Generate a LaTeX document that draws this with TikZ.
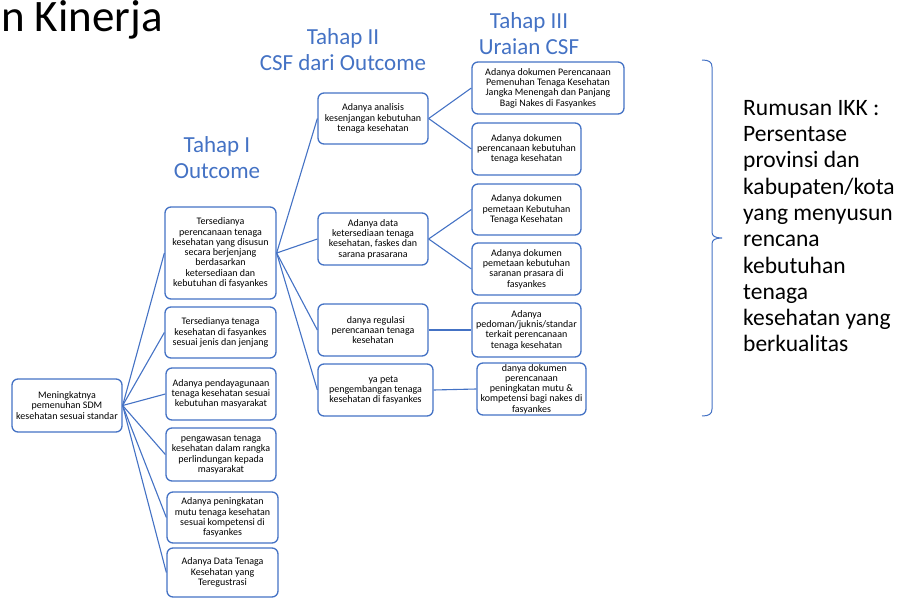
\documentclass[tikz,border=0pt]{standalone}
\usepackage{fontspec}
\setmainfont{Carlito}
\definecolor{biru}{HTML}{4472C4}

\begin{document}
\begin{tikzpicture}[x=1pt,y=-1pt,
	kotak/.style={draw=biru,line width=1.3pt,rounded corners=6pt,align=center,inner sep=1pt,
		minimum height=52pt,font=\fontsize{10}{10.3}\selectfont},
	garis/.style={draw=biru,line width=1.1pt},
	judul/.style={text=biru,align=center,inner sep=0pt,anchor=north,font=\fontsize{23}{26}\selectfont}]
	\useasboundingbox (0,0) rectangle (903,599);
	\node[anchor=base west,inner sep=0pt,font=\fontsize{45}{45}\selectfont] (kinerja) at (1,32) {n Kinerja};
	% judul tahap
	\node[judul] (t1) at (217,136) {Tahap I\\Outcome};
	\node[judul] (t2) at (343,28) {Tahap II\\CSF dari Outcome};
	\node[judul] (t3) at (529,12) {Tahap III\\Uraian CSF};
	% akar
	\node[kotak,minimum width=110pt,minimum height=53pt] (r) at (67,405.5) {Meningkatnya\\pemenuhan SDM\\kesehatan sesuai standar};
	% tahap I
	\node[kotak,minimum width=111pt,minimum height=92pt] (a1) at (220.5,253) {Tersedianya\\perencanaan tenaga\\kesehatan yang disusun\\secara berjenjang\\berdasarkan\\ketersediaan dan\\kebutuhan di fasyankes};
	\node[kotak,minimum width=111pt,minimum height=51pt] (a2) at (220.5,332.5) {Tersedianya tenaga\\kesehatan di fasyankes\\sesuai jenis dan jenjang};
	\node[kotak,minimum width=110pt] (a3) at (221,394) {Adanya pendayagunaan\\tenaga kesehatan sesuai\\kebutuhan masyarakat};
	\node[kotak,minimum width=110pt,minimum height=53pt] (a4) at (221,454.5) {pengawasan tenaga\\kesehatan dalam rangka\\perlindungan kepada\\masyarakat};
	\node[kotak,minimum width=111pt,minimum height=51pt] (a5) at (222.5,517.5) {Adanya peningkatan\\mutu tenaga kesehatan\\sesuai kompetensi di\\fasyankes};
	\node[kotak,minimum width=111pt,minimum height=49pt] (a6) at (222.5,572.5) {Adanya Data Tenaga\\Kesehatan yang\\Teregustrasi};
	% tahap II
	\node[kotak,minimum width=110pt,minimum height=51pt] (b1) at (373,118.5) {Adanya analisis\\kesenjangan kebutuhan\\tenaga kesehatan};
	\node[kotak,minimum width=110pt] (b2) at (373,239) {Adanya data\\ketersediaan tenaga\\kesehatan, faskes dan\\sarana prasarana};
	\node[kotak,minimum width=110pt] (b3) at (373,330) {\phantom{A}danya regulasi\\perencanaan tenaga\\kesehatan};
	\node[kotak,minimum width=115pt] (b4) at (375.5,390) {\phantom{Ada}ya peta\\pengembangan tenaga\\kesehatan di fasyankes};
	% tahap III
	\node[kotak,minimum width=152pt] (c1) at (548,88) {Adanya dokumen Perencanaan\\Pemenuhan Tenaga Kesehatan\\Jangka Menengah dan Panjang\\Bagi Nakes di Fasyankes};
	\node[kotak,minimum width=109pt] (c2) at (526.5,149) {Adanya dokumen\\perencanaan kebutuhan\\tenaga kesehatan};
	\node[kotak,minimum width=109pt,minimum height=51pt] (c3) at (526.5,209.5) {Adanya dokumen\\pemetaan Kebutuhan\\Tenaga Kesehatan};
	\node[kotak,minimum width=109pt] (c4) at (526.5,269) {Adanya dokumen\\pemetaan kebutuhan\\saranan prasara di\\fasyankes};
	\node[kotak,minimum width=109pt,minimum height=54pt] (c5) at (526.5,330) {Adanya\\pedoman/juknis/standar\\terkait perencanaan\\tenaga kesehatan};
	\node[kotak,minimum width=109pt] (c6) at (531.5,389) {\phantom{A}danya dokumen\\perencanaan\\peningkatan mutu \&\\kompetensi bagi nakes di\\fasyankes};
	% penghubung
	\draw[garis] (r.east) -- (a1.west);
	\draw[garis] (r.east) -- (a2.west);
	\draw[garis] (r.east) -- (a3.west);
	\draw[garis] (r.east) -- (a4.west);
	\draw[garis] (r.east) -- (a5.west);
	\draw[garis] (r.east) -- (a6.west);
	\draw[garis] (a1.east) -- (b1.west);
	\draw[garis] (a1.east) -- (b2.west);
	\draw[garis] (a1.east) -- (b3.west);
	\draw[garis] (a1.east) -- (b4.west);
	\draw[garis] (b1.east) -- (c1.west);
	\draw[garis] (b1.east) -- (c2.west);
	\draw[garis] (b2.east) -- (c3.west);
	\draw[garis] (b2.east) -- (c4.west);
	\draw[garis] (b3.east) -- (c5.west);
	\draw[garis] (b4.east) -- (c6.west);
	% kurung kurawal dan rumusan
	\draw[biru,line width=1pt] (702,60) .. controls (709,60) and (712,62) .. (712,67) -- (712,232)
		.. controls (712,236) and (715,238) .. (722,238) .. controls (715,238) and (712,240) .. (712,244)
		-- (712,409) .. controls (712,414) and (709,416) .. (702,416);
	\node[anchor=north west,align=left,inner sep=0pt,font=\fontsize{23.5}{26.3}\selectfont] (ikk) at (743,100)
		{Rumusan IKK :\\Persentase\\provinsi dan\\kabupaten/kota\\yang menyusun\\rencana\\kebutuhan\\tenaga\\kesehatan yang\\berkualitas};
\end{tikzpicture}
\end{document}
